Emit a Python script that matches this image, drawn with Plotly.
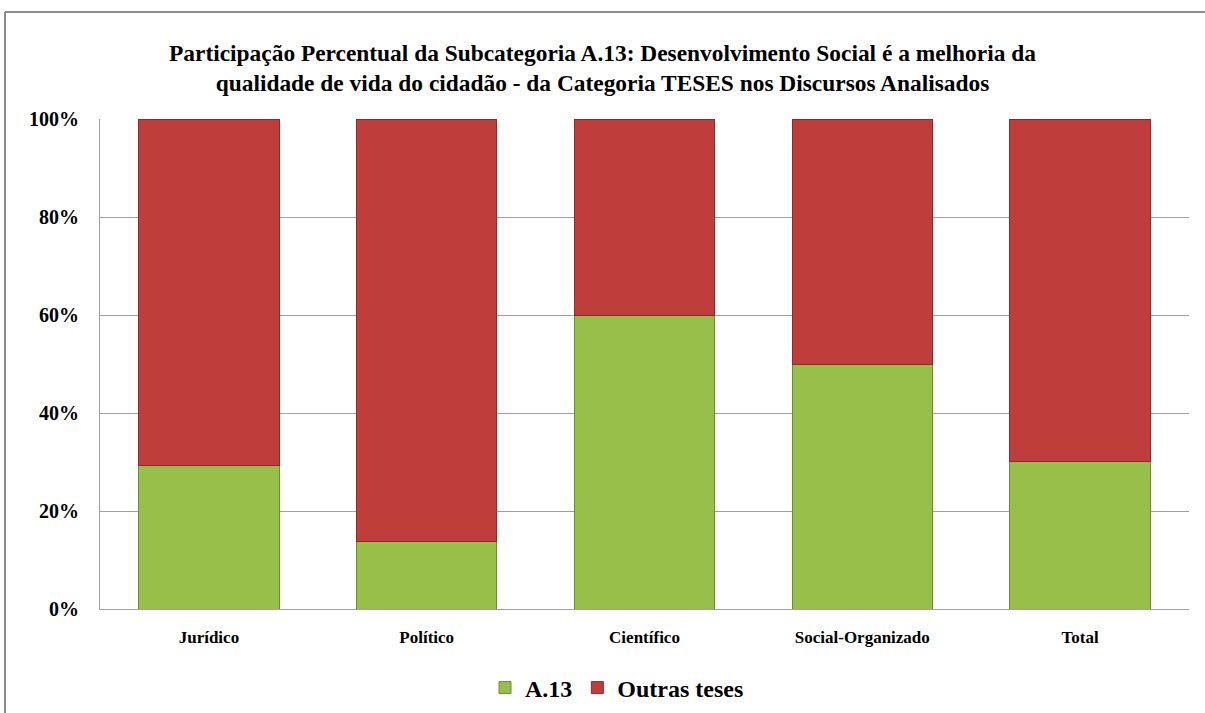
import plotly.graph_objects as go

categories = ["Jurídico", "Político", "Científico", "Social-Organizado", "Total"]
a13 = [29.3, 13.7, 60.0, 50.0, 30.2]
outras = [100 - v for v in a13]
tick_vals = [0, 20, 40, 60, 80, 100]
tick_text = ["0%", "20%", "40%", "60%", "80%", "100%"]

font_family = "Liberation Serif"

fig = go.Figure()
fig.add_trace(go.Bar(
    x=categories, y=a13, name="<b>A.13</b>",
    marker=dict(color="#98BF49", line=dict(color="#6E8C30", width=1)),
))
fig.add_trace(go.Bar(
    x=categories, y=outras, name="<b>Outras teses</b>",
    marker=dict(color="#BF3E3B", line=dict(color="#8E2A28", width=1)),
))

W, H = 1205, 713
ml, mr, mt, mb = 100, 16, 119, 104
pw, ph = W - ml - mr, H - mt - mb

def px_x(px):
    return (px - ml) / pw

def px_y(py):
    return (H - mb - py) / ph

fig.update_layout(
    width=W, height=H,
    barmode="stack",
    bargap=0.355,
    margin=dict(l=ml, r=mr, t=mt, b=mb, autoexpand=False),
    paper_bgcolor="white",
    plot_bgcolor="white",
    font=dict(family=font_family, color="black"),
    title=dict(
        text="<b>Participação Percentual da Subcategoria A.13: Desenvolvimento Social é a melhoria da<br>qualidade de vida do cidadão - da Categoria TESES nos Discursos Analisados</b>",
        x=0.5, xanchor="center", xref="container",
        y=1 - 61 / H, yanchor="middle",
        font=dict(size=23.4, family=font_family, color="black"),
    ),
    xaxis=dict(
        showgrid=False, showline=True, linecolor="#A0A0A0", linewidth=1,
        tickfont=dict(size=17, family=font_family, color="black"),
        tickvals=categories, ticktext=["<b>%s</b>" % c for c in categories],
        ticks="", ticklabelstandoff=13,
    ),
    yaxis=dict(
        range=[0, 100], tickvals=tick_vals, ticktext=["<b>%s</b>" % t for t in tick_text],
        showgrid=True, gridcolor="#A0A0A0", gridwidth=1,
        showline=True, linecolor="#A0A0A0", linewidth=1,
        ticks="", zeroline=False,
        tickfont=dict(size=20, family=font_family, color="black"),
        ticklabelstandoff=16,
    ),
    legend=dict(
        orientation="h", x=617 / W, xanchor="center", xref="container",
        y=1 - 688 / H, yanchor="middle", yref="container",
        font=dict(size=24, family=font_family, color="black"),
        traceorder="normal", itemwidth=30,
    ),
    shapes=[
        dict(type="line", xref="paper", yref="paper",
             x0=px_x(5), x1=px_x(1210), y0=px_y(12), y1=px_y(12),
             line=dict(color="#8C8C8C", width=2)),
        dict(type="line", xref="paper", yref="paper",
             x0=px_x(5), x1=px_x(5), y0=px_y(12), y1=px_y(720),
             line=dict(color="#8C8C8C", width=2)),
    ],
)
fig.for_each_trace(lambda t: t.update(hoverinfo="skip"))

fig.write_html("out.html")
